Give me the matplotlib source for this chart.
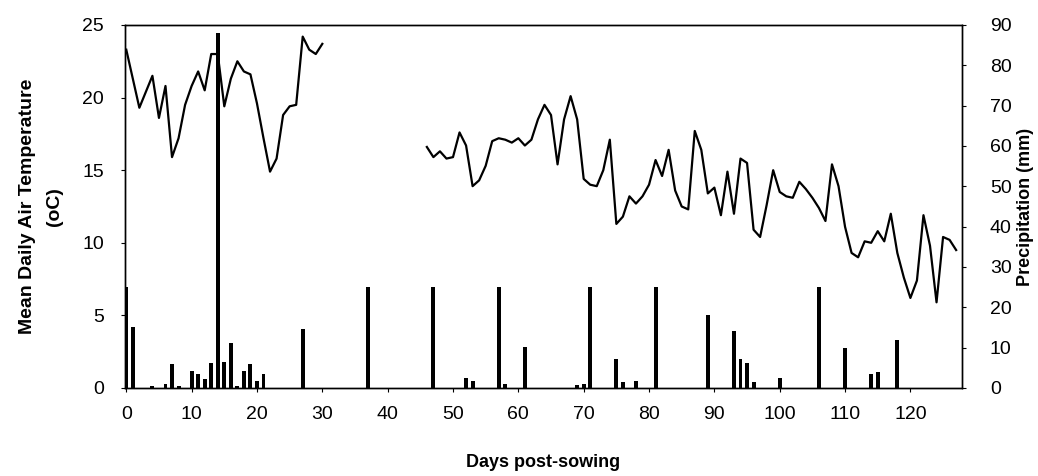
import numpy as np
import matplotlib
matplotlib.use("Agg")
import matplotlib.pyplot as plt

plt.rcParams['font.family'] = ['Liberation Sans', 'DejaVu Sans']

# mean daily air temperature (oC), days 0..127, None = no record
temp = [23.3, 21.3, 19.3, 20.4, 21.5, 18.6, 20.8, 15.9, 17.2, 19.5,
        20.8, 21.8, 20.5, 23.0, 23.0, 19.4, 21.3, 22.5, 21.8, 21.6,
        19.6, 17.2, 14.9, 15.8, 18.8, 19.4, 19.5, 24.2, 23.3, 23.0,
        23.7, None, None, None, None, None, None, None, None, None,
        None, None, None, None, None, None, 16.6, 15.9, 16.3, 15.8,
        15.9, 17.6, 16.7, 13.9, 14.3, 15.3, 17.0, 17.2, 17.1, 16.9,
        17.2, 16.7, 17.1, 18.5, 19.5, 18.8, 15.4, 18.5, 20.1, 18.5,
        14.4, 14.0, 13.9, 15.0, 17.1, 11.3, 11.8, 13.2, 12.7, 13.2,
        14.0, 15.7, 14.6, 16.4, 13.6, 12.5, 12.3, 17.7, 16.4, 13.4,
        13.8, 11.9, 14.9, 12.0, 15.8, 15.5, 10.9, 10.4, 12.6, 15.0,
        13.5, 13.2, 13.1, 14.2, 13.7, 13.1, 12.4, 11.5, 15.4, 13.9,
        11.1, 9.3, 9.0, 10.1, 10.0, 10.8, 10.1, 12.0, 9.3, 7.6,
        6.2, 7.4, 11.9, 9.8, 5.9, 10.4, 10.2, 9.5]
temp_days = list(range(len(temp)))

# daily precipitation (mm)
rain_days = [0, 1, 4, 6, 7, 8, 10, 11, 12, 13, 14, 15, 16, 17, 18, 19, 20, 21,
             27, 37, 47, 52, 53, 57, 58, 61, 69, 70, 71, 75, 76, 78, 81,
             89, 93, 94, 95, 96, 100, 106, 110, 114, 115, 118]
rain_mm = [25.1, 15.2, 0.5, 1.0, 5.9, 0.4, 4.3, 3.4, 2.2, 6.3, 88.0, 6.4, 11.2, 0.4, 4.3, 5.9, 1.8, 3.5,
           14.6, 25.0, 25.0, 2.4, 1.8, 25.0, 0.9, 10.2, 0.8, 0.9, 25.0, 7.1, 1.6, 1.7, 25.0,
           18.1, 14.2, 7.1, 6.1, 1.6, 2.6, 25.0, 9.8, 3.5, 4.0, 11.9]

t = np.array([np.nan if v is None else v for v in temp])

fig = plt.figure(figsize=(10.38, 4.76), dpi=100)
ax = fig.add_axes([0.1204, 0.1849, 0.8064, 0.7626])
ax2 = ax.twinx()

ax2.bar(rain_days, rain_mm, width=0.6, color='black', zorder=2)
ax.plot(temp_days, t, color='black', linewidth=1.6, zorder=3)
ax.set_zorder(ax2.get_zorder() + 1)
ax.patch.set_visible(False)

ax.set_xlim(-0.2, 127.9)
ax.set_ylim(0, 25)
ax2.set_ylim(0, 90)
ax.set_xticks(range(0, 121, 10))
ax.set_yticks(range(0, 26, 5))
ax2.set_yticks(range(0, 91, 10))

ax.tick_params(axis='both', labelsize=14, length=3, width=0.8)
ax.tick_params(axis='x', pad=10)
ax.tick_params(axis='y', pad=12)
ax2.tick_params(axis='y', labelsize=14, length=3, width=0.8, pad=17)

for a in (ax, ax2):
    for s in a.spines.values():
        s.set_linewidth(1.0)
        s.set_color('black')

ax.set_ylabel('Mean Daily Air Temperature\n(oC)', fontsize=14, fontweight='bold',
              labelpad=14, linespacing=1.8)
ax2.set_ylabel('Precipitation (mm)', fontsize=13, fontweight='bold', labelpad=4)
ax.set_xlabel('Days post-sowing', fontsize=13, fontweight='bold', labelpad=22)

fig.savefig('out.png', dpi=100)
